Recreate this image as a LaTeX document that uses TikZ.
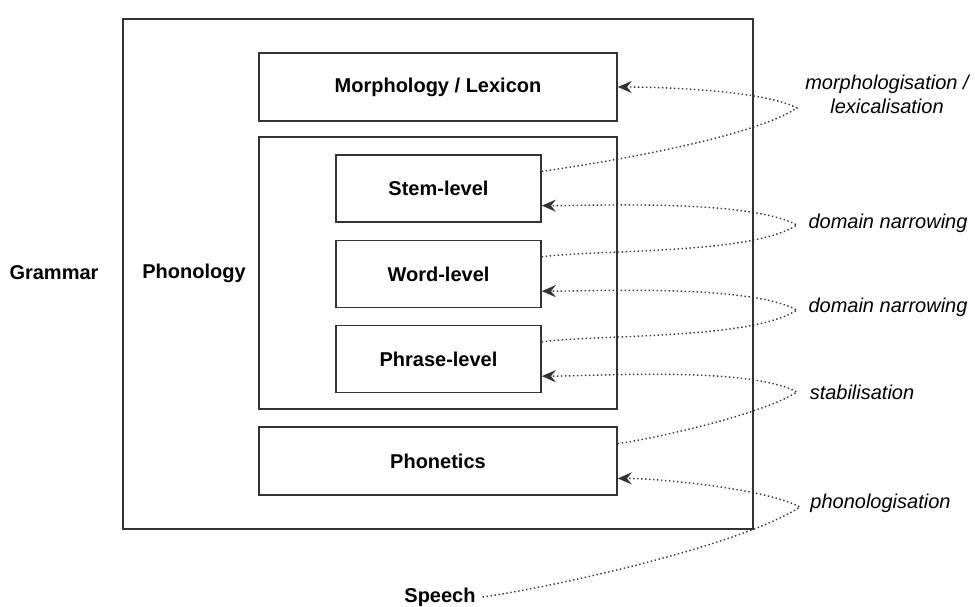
\documentclass[tikz,border=0pt]{standalone}
\usepackage{fontspec}
\setmainfont{Liberation Sans}
\usetikzlibrary{arrows.meta,calc}

\begin{document}
\begin{tikzpicture}[x=0.5pt, y=-0.5pt,
    box/.style={draw=black!80, line width=0.8pt, inner sep=0, font=\bfseries},
    lvl/.style={box, minimum width=102.5pt, minimum height=33.5pt},
    wide/.style={box, minimum width=179pt, minimum height=34pt},
    change/.style={font=\itshape, inner sep=0, align=center},
    flow/.style={black!80, line width=0.7pt, dash pattern=on 0.7pt off 1.3pt,
      -{Stealth[length=7pt, width=6pt, inset=2.4pt]}},
    up/.style={out=8, in=-147, looseness=0.55},
    back/.style={out=152, in=0, looseness=0.55}]
  \useasboundingbox (0,0) rectangle (975,606);
  \node[box, minimum width=315pt, minimum height=255pt] (grammar) at (438,274) {};
  \node[box, minimum width=179pt, minimum height=136pt] (phonology) at (438,273) {};
  \node[wide] (morph) at (438,87) {Morphology / Lexicon};
  \node[lvl] (stem) at (438.5,188.5) {Stem-level};
  \node[lvl] (word) at (438.5,274) {Word-level};
  \node[lvl] (phrase) at (438.5,359) {Phrase-level};
  \node[wide] (phonetics) at (438,461) {Phonetics};
  \node[font=\bfseries] (glab) at (54,273) {Grammar};
  \node[font=\bfseries] (plab) at (194,273) {Phonology};
  \node[font=\bfseries] (speech) at (440,597) {Speech};

  \node[change] (mlab) at (887,94) {morphologisation /\\lexicalisation};
  \node[change] (dlab1) at (888,223) {domain narrowing};
  \node[change] (dlab2) at (888,307) {domain narrowing};
  \node[change] (slab) at (862,392) {stabilisation};
  \node[change] (flab) at (880.5,503) {phonologisation};
  \coordinate (tipM) at (797,108);
  \coordinate (tipD1) at (797,225);
  \coordinate (tipD2) at (797,310);
  \coordinate (tipS) at (797,392);
  \coordinate (tipF) at (800,507);

  \draw[flow] ($(stem.north east)!0.25!(stem.south east)$) to[up] (tipM)
    to[back] (morph.east);
  \draw[flow] ($(word.north east)!0.25!(word.south east)$) to[up] (tipD1)
    to[back] ($(stem.north east)!0.75!(stem.south east)$);
  \draw[flow] ($(phrase.north east)!0.25!(phrase.south east)$) to[up] (tipD2)
    to[back] ($(word.north east)!0.75!(word.south east)$);
  \draw[flow] ($(phonetics.north east)!0.25!(phonetics.south east)$) to[up] (tipS)
    to[back] ($(phrase.north east)!0.75!(phrase.south east)$);
  \draw[flow] (speech.east) to[up] (tipF)
    to[back] ($(phonetics.north east)!0.75!(phonetics.south east)$);
\end{tikzpicture}
\end{document}
